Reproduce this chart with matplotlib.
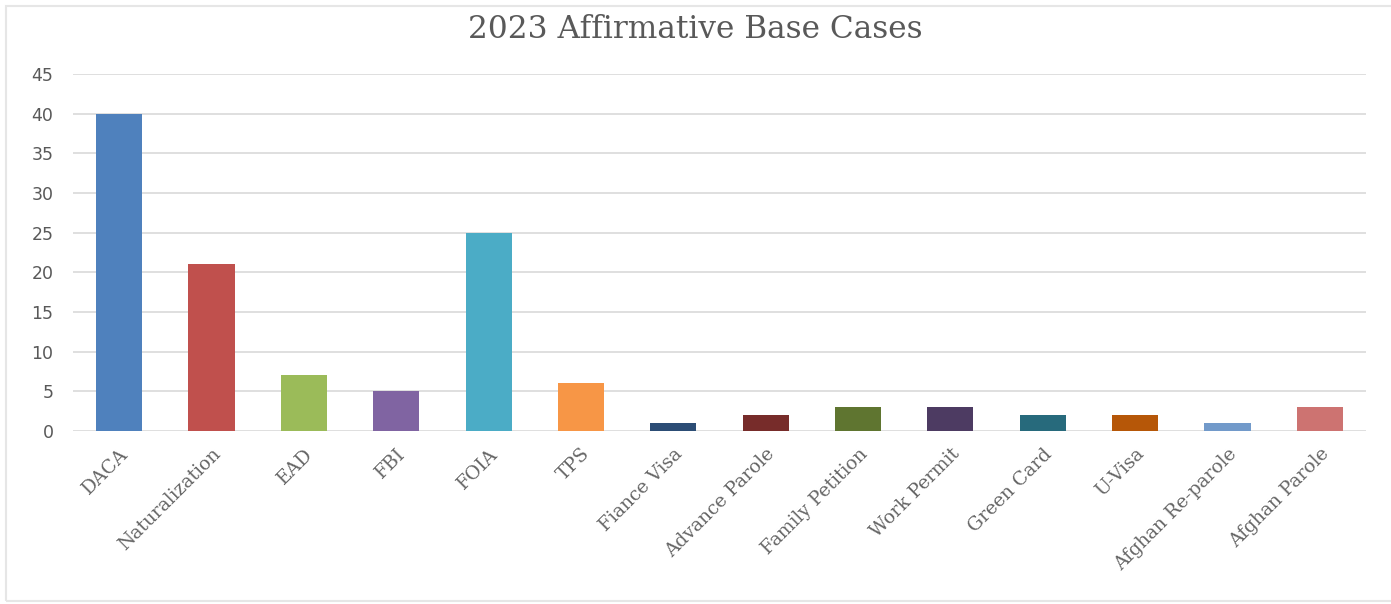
import matplotlib
matplotlib.use("Agg")
import matplotlib.pyplot as plt
from matplotlib.patches import Rectangle

categories = ["DACA", "Naturalization", "EAD", "FBI", "FOIA", "TPS",
              "Fiance Visa", "Advance Parole", "Family Petition", "Work Permit",
              "Green Card", "U-Visa", "Afghan Re-parole", "Afghan Parole"]
counts = [40, 21, 7, 5, 25, 6, 1, 2, 3, 3, 2, 2, 1, 3]
colors = ["#4F81BD", "#C0504D", "#9BBB59", "#8064A2", "#4BACC6", "#F79646",
          "#2C4D75", "#772C2A", "#5F7530", "#4D3B62", "#276A7C", "#B65708",
          "#729ACA", "#CD7371"]
yticks = list(range(0, 50, 5))

fig = plt.figure(figsize=(13.91, 6.04), dpi=100)
ax = fig.add_axes([73 / 1391, 1 - 431 / 604, (1366 - 73) / 1391, (431 - 74) / 604])

x = range(len(categories))
ax.bar(x, counts, width=0.5, color=colors, zorder=3)

ax.set_xlim(-0.5, len(categories) - 0.5)
ax.set_ylim(0, 45)
ax.set_yticks(yticks)
ax.set_yticklabels([str(t) for t in yticks], family="DejaVu Sans",
                   fontsize=12.5, color="#595959")
ax.set_xticks(list(x))
ax.set_xticklabels(categories, rotation=45, ha="right", va="top",
                   rotation_mode="anchor", family="DejaVu Serif",
                   fontsize=13.5, color="#666666")
ax.tick_params(axis="both", length=0)
ax.tick_params(axis="y", pad=14)
ax.tick_params(axis="x", pad=10)
ax.grid(axis="y", color="#D9D9D9", linewidth=1.2, zorder=0)
for s in ax.spines.values():
    s.set_visible(False)

fig.text(0.5, 1 - 29 / 604, "2023 Affirmative Base Cases", ha="center", va="center",
         family="DejaVu Serif", fontsize=22.5, color="#595959")

# light chart frame
fig.patches.append(Rectangle((6 / 1391, 3 / 604), 1.1, 1 - 9 / 604,
                             transform=fig.transFigure, fill=False,
                             edgecolor="#E6E6E6", linewidth=1.5))

fig.savefig("out.png", dpi=100)
